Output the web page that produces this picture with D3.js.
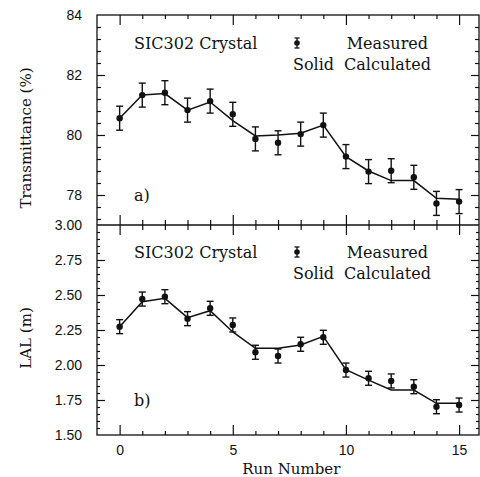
<!DOCTYPE html>
<html>
<head>
<meta charset="utf-8">
<script src="https://cdn.jsdelivr.net/npm/d3@7"></script>
<style>
  body { margin: 0; background: #fff; }
  svg { display: block; }
  .lbl { font-family: "DejaVu Serif", serif; font-size: 15px; fill: #111; }
  .leg { font-family: "DejaVu Serif", serif; font-size: 16px; fill: #111; }
  .tk text { font-family: "Liberation Sans", Arial, sans-serif; font-size: 14px; fill: #111; }
</style>
</head>
<body>
<div id="chart"></div>
<script>
// run numbers on the x axis
const runs = [0, 1, 2, 3, 4, 5, 6, 7, 8, 9, 10, 11, 12, 13, 14, 15];

// panel a) transmittance (%)
const transMeasured = [80.56, 81.33, 81.41, 80.83, 81.13, 80.69, 79.87, 79.74, 80.03, 80.33, 79.28, 78.78, 78.81, 78.59, 77.72, 77.78];
const transErr = [0.4, 0.4, 0.4, 0.4, 0.4, 0.4, 0.4, 0.4, 0.4, 0.4, 0.4, 0.4, 0.4, 0.4, 0.4, 0.4];
const transCalc = [80.56, 81.33, 81.38, 80.83, 81.1, 80.48, 79.97, 80.0, 80.06, 80.33, 79.28, 78.8, 78.48, 78.48, 77.89, 77.86];

// panel b) LAL (m)
const lalMeasured = [2.274, 2.471, 2.488, 2.331, 2.405, 2.286, 2.091, 2.064, 2.148, 2.198, 1.964, 1.905, 1.886, 1.845, 1.702, 1.714];
const lalErr = [0.05, 0.05, 0.05, 0.05, 0.05, 0.05, 0.05, 0.05, 0.05, 0.05, 0.05, 0.05, 0.05, 0.05, 0.05, 0.05];
const lalCalc = [2.274, 2.452, 2.476, 2.338, 2.388, 2.236, 2.119, 2.119, 2.143, 2.205, 1.966, 1.892, 1.821, 1.821, 1.726, 1.726];

// tick values
const xMajor = [0, 5, 10, 15];
const xMinor = [1, 2, 3, 4, 6, 7, 8, 9, 11, 12, 13, 14];
const transTicks = [78, 80, 82, 84];
const transMinor = [77.2, 77.6, 78.4, 78.8, 79.2, 79.6, 80.4, 80.8, 81.2, 81.6, 82.4, 82.8, 83.2, 83.6];
const lalTicks = [1.5, 1.75, 2.0, 2.25, 2.5, 2.75, 3.0];
const lalMinor = d3.range(31).map(i => 1.5 + i * 0.05).filter(v => Math.abs(v * 4 - Math.round(v * 4)) > 1e-6);

const width = 480, height = 477;
const pLeft = 97, pRight = 479, pTop = 15, pMid = 225, pBottom = 435;

const x = d3.scaleLinear().domain([-1, 15.88]).range([pLeft, pRight]);
const yA = d3.scaleLinear().domain([77, 84]).range([pMid, pTop]);
const yB = d3.scaleLinear().domain([1.5, 3.0]).range([pBottom, pMid]);

const svg = d3.select('#chart').append('svg')
  .attr('width', width)
  .attr('height', height);

function tickAxis(axis, tx, ty) {
  const g = svg.append('g')
    .attr('class', 'tk')
    .attr('transform', `translate(${tx},${ty})`)
    .call(axis);
  g.select('.domain').remove();
  g.selectAll('line').attr('stroke', '#111').attr('stroke-width', 1.2);
  return g;
}

// frame
svg.append('rect')
  .attr('x', pLeft).attr('y', pTop)
  .attr('width', pRight - pLeft).attr('height', pBottom - pTop)
  .attr('fill', 'none').attr('stroke', '#111').attr('stroke-width', 1.3);
svg.append('line')
  .attr('x1', pLeft).attr('x2', pRight).attr('y1', pMid).attr('y2', pMid)
  .attr('stroke', '#111').attr('stroke-width', 1.3);

// x ticks: top edge, middle crosses, bottom edge
tickAxis(d3.axisBottom(x).tickValues(xMajor).tickSize(10).tickFormat(''), 0, pTop);
tickAxis(d3.axisBottom(x).tickValues(xMinor).tickSize(4).tickFormat(''), 0, pTop);
tickAxis(d3.axisBottom(x).tickValues(xMajor).tickSize(10).tickFormat(''), 0, pMid);
tickAxis(d3.axisTop(x).tickValues(xMajor).tickSize(10).tickFormat(''), 0, pMid);
tickAxis(d3.axisBottom(x).tickValues(xMinor).tickSize(5).tickFormat(''), 0, pMid);
tickAxis(d3.axisTop(x).tickValues(xMinor).tickSize(5).tickFormat(''), 0, pMid);
tickAxis(d3.axisTop(x).tickValues(xMajor).tickSize(10).tickFormat(''), 0, pBottom);
tickAxis(d3.axisTop(x).tickValues(xMinor).tickSize(4).tickFormat(''), 0, pBottom);
tickAxis(d3.axisBottom(x).tickValues(xMajor).tickSize(0).tickPadding(10).tickFormat(d3.format('d')), 0, pBottom);

// y ticks panel a
tickAxis(d3.axisRight(yA).tickValues(transTicks.filter(v => v < 84)).tickSize(8).tickFormat(''), pLeft, 0);
tickAxis(d3.axisRight(yA).tickValues(transMinor).tickSize(4).tickFormat(''), pLeft, 0);
tickAxis(d3.axisLeft(yA).tickValues(transTicks.filter(v => v < 84)).tickSize(8).tickFormat(''), pRight, 0);
tickAxis(d3.axisLeft(yA).tickValues(transMinor).tickSize(4).tickFormat(''), pRight, 0);
tickAxis(d3.axisLeft(yA).tickValues(transTicks).tickSize(0).tickPadding(15).tickFormat(d3.format('d')), pLeft, 0);

// y ticks panel b
tickAxis(d3.axisRight(yB).tickValues(lalTicks.filter(v => v > 1.5 && v < 3)).tickSize(8).tickFormat(''), pLeft, 0);
tickAxis(d3.axisRight(yB).tickValues(lalMinor).tickSize(3).tickFormat(''), pLeft, 0);
tickAxis(d3.axisLeft(yB).tickValues(lalTicks.filter(v => v > 1.5 && v < 3)).tickSize(8).tickFormat(''), pRight, 0);
tickAxis(d3.axisLeft(yB).tickValues(lalMinor).tickSize(3).tickFormat(''), pRight, 0);
tickAxis(d3.axisLeft(yB).tickValues(lalTicks).tickSize(0).tickPadding(15).tickFormat(d3.format('.2f')), pLeft, 0);

// axis titles
svg.append('text').attr('class', 'lbl')
  .attr('transform', 'translate(31,138) rotate(-90)')
  .attr('text-anchor', 'middle').text('Transmittance (%)');
svg.append('text').attr('class', 'lbl')
  .attr('transform', 'translate(31,338) rotate(-90)')
  .attr('text-anchor', 'middle').text('LAL (m)');
svg.append('text').attr('class', 'lbl')
  .attr('x', (x(0) + x(15)) / 2 + 2).attr('y', 474)
  .attr('text-anchor', 'middle').text('Run Number');

function errMarker(g, cx, cy, lo, hi, cap, r) {
  g.append('line').attr('x1', cx).attr('x2', cx).attr('y1', lo).attr('y2', hi);
  g.append('line').attr('x1', cx - cap).attr('x2', cx + cap).attr('y1', lo).attr('y2', lo);
  g.append('line').attr('x1', cx - cap).attr('x2', cx + cap).attr('y1', hi).attr('y2', hi);
  g.append('circle').attr('cx', cx).attr('cy', cy).attr('r', r).attr('fill', '#111').attr('stroke', 'none');
}

function panel(y, measured, err, calc, tag, tagY, legendY) {
  const line = d3.line().x((d, i) => x(runs[i])).y(d => y(d));
  svg.append('path')
    .datum(calc)
    .attr('d', line)
    .attr('fill', 'none')
    .attr('stroke', '#111')
    .attr('stroke-width', 1.5);

  const g = svg.append('g').attr('stroke', '#111').attr('stroke-width', 1.4);
  measured.forEach((v, i) => {
    errMarker(g, x(runs[i]), y(v), y(v + err[i]), y(v - err[i]), 3.5, 3.2);
  });

  svg.append('text').attr('class', 'leg').attr('x', 134).attr('y', legendY).text('SIC302 Crystal');
  const lg = svg.append('g').attr('stroke', '#111').attr('stroke-width', 1.3);
  errMarker(lg, 297, legendY - 6, legendY - 11, legendY - 1, 2.5, 2.8);
  svg.append('text').attr('class', 'leg').attr('x', 428).attr('y', legendY)
    .attr('text-anchor', 'end').text('Measured');
  svg.append('text').attr('class', 'leg').attr('x', 293).attr('y', legendY + 21).text('Solid');
  svg.append('text').attr('class', 'leg').attr('x', 431).attr('y', legendY + 21)
    .attr('text-anchor', 'end').text('Calculated');
  svg.append('text').attr('class', 'leg').attr('x', 134).attr('y', tagY).text(tag);
}

panel(yA, transMeasured, transErr, transCalc, 'a)', 201, 49);
panel(yB, lalMeasured, lalErr, lalCalc, 'b)', 406, 258);
</script>
</body>
</html>
